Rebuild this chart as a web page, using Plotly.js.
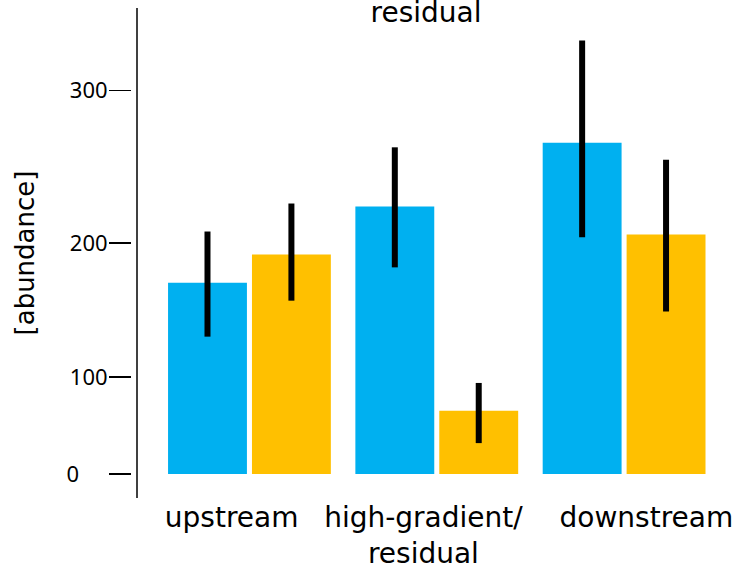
<!DOCTYPE html>
<html>
<head>
<meta charset="utf-8">
<script src="https://cdn.plot.ly/plotly-3.0.1.min.js"></script>
<style>html,body{margin:0;padding:0;background:#fff;}#chart{width:736px;height:566px;}</style>
</head>
<body>
<div id="chart"></div>
<script>
// ---- data ----
const NB = '\u00a0';
const categories = ['upstream', 'high-gradient/<br>residual', 'downstream'];
const categoryLabels = [
  'upstream' + NB.repeat(4),
  'high-gradient/' + NB.repeat(3) + '<br>residual' + NB.repeat(3),
  NB.repeat(5) + 'downstream'
];
const blueValues = [172, 225, 267];
const blueUpper = [208, 264, 331];
const blueLower = [132, 183, 204];
const orangeValues = [192, 71, 206];
const orangeUpper = [227, 95, 256];
const orangeLower = [159, 40, 151];
const yTickValues = [0, 100, 200, 300];
const yTickLabels = ['0' + NB.repeat(5), '100', '200', '300'];
const axisPower = 1.25; // the value axis is a power scale

const f = v => Math.pow(v, axisPower);

function makeTrace(vals, up, lo, color) {
  return {
    type: 'bar',
    x: categories,
    y: vals.map(f),
    marker: {color: color},
    hoverinfo: 'none',
    error_y: {
      type: 'data',
      symmetric: false,
      array: vals.map((v, i) => f(up[i]) - f(v)),
      arrayminus: vals.map((v, i) => f(v) - f(lo[i])),
      thickness: 6,
      width: 0,
      color: '#000'
    }
  };
}

const data = [
  makeTrace(blueValues, blueUpper, blueLower, '#00B0F0'),
  makeTrace(orangeValues, orangeUpper, orangeLower, '#FFC000')
];

const FONT = '"DejaVu Sans", sans-serif';
const TICKFONT = '"Noto Sans", sans-serif';
const layout = {
  width: 736, height: 566,
  margin: {l: 132, r: 10, t: 8, b: 68},
  paper_bgcolor: '#fff', plot_bgcolor: '#fff',
  showlegend: false,
  barmode: 'group',
  bargap: 0.104,
  bargroupgap: 0.06,
  font: {family: FONT, color: '#000'},
  title: {
    text: 'residual',
    font: {family: FONT, size: 28, color: '#000'},
    x: 426 / 736, xanchor: 'center',
    y: 1, yanchor: 'top', yref: 'container',
    pad: {t: 2, b: 0}
  },
  xaxis: {
    type: 'category',
    range: [-0.627, 2.544],
    showline: false, showgrid: false, zeroline: false,
    ticks: '',
    tickangle: 0,
    automargin: false,
    tickmode: 'array',
    tickvals: categories,
    ticktext: categoryLabels,
    tickfont: {family: FONT, size: 28, color: '#000'}
  },
  yaxis: {
    range: [-78.2, 1518],
    showline: false, showgrid: false, zeroline: false,
    tickmode: 'array',
    tickvals: yTickValues.map(f),
    ticktext: yTickLabels,
    ticks: 'outside', ticklen: 22, tickwidth: 1.5, tickcolor: '#000',
    ticklabelstandoff: -3,
    automargin: false,
    tickfont: {family: TICKFONT, size: 22, color: '#000'},
    title: {text: '[abundance]', font: {family: FONT, size: 26, color: '#000'}, standoff: 24}
  },
  shapes: [{
    type: 'line', xref: 'paper', yref: 'paper',
    x0: 5 / 594, x1: 5 / 594, y0: 0, y1: 1,
    line: {color: '#000', width: 1.5}
  }]
};

Plotly.newPlot('chart', data, layout, {displayModeBar: false, staticPlot: true});
</script>
</body>
</html>
